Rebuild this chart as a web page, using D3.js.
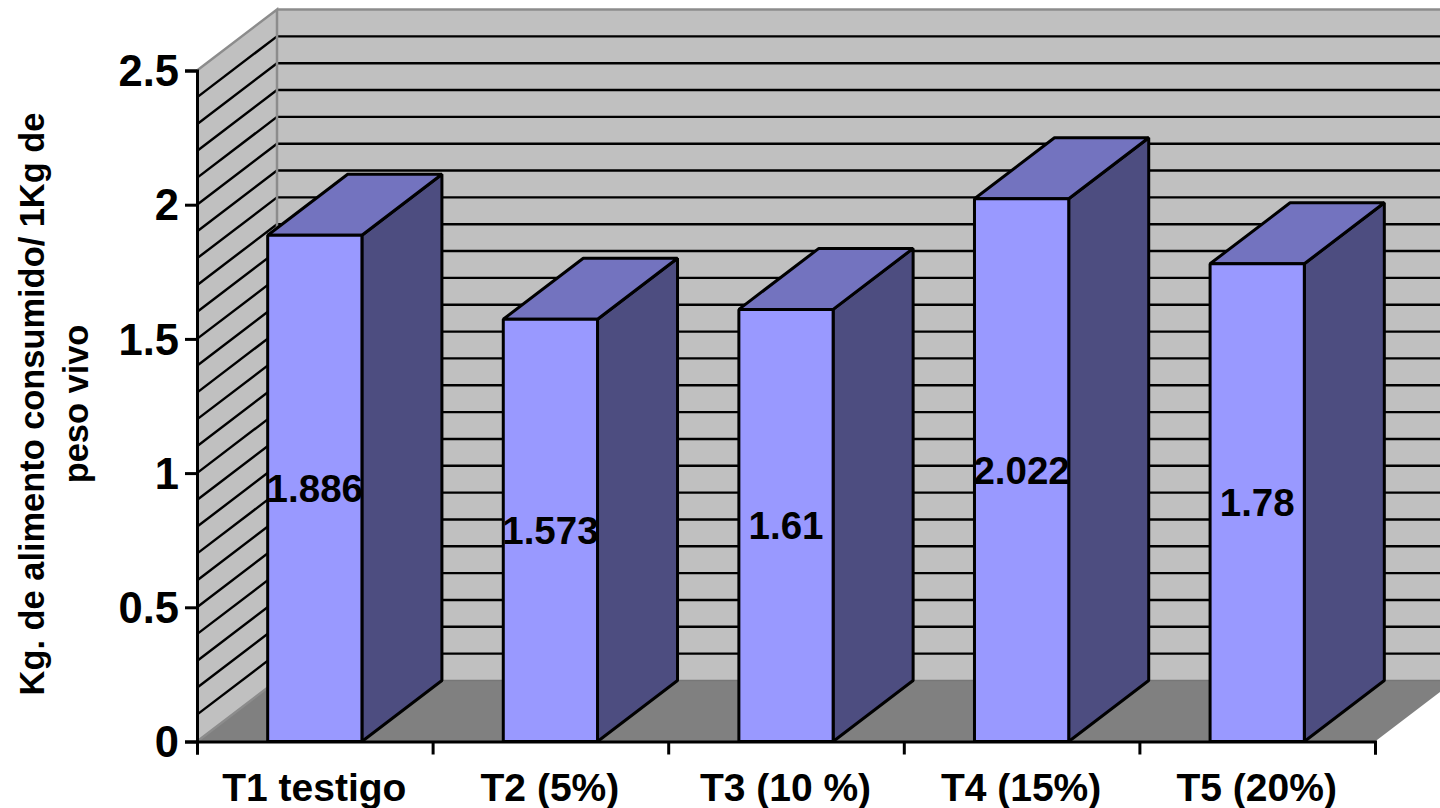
<!DOCTYPE html>
<html>
<head>
<meta charset="utf-8">
<script src="https://cdn.jsdelivr.net/npm/d3@7/dist/d3.min.js"></script>
<style>
html,body{margin:0;padding:0;background:#fff;overflow:hidden}
svg{display:block}
text{font-family:"Liberation Sans",Arial,sans-serif;font-weight:bold;fill:#000}
</style>
</head>
<body>
<svg id="chart" width="1440" height="808"></svg>
<script>
const categories = ["T1 testigo", "T2 (5%)", "T3 (10 %)", "T4 (15%)", "T5 (20%)"];
const values = [1.886, 1.573, 1.61, 2.022, 1.78];
const valueLabels = ["1.886", "1.573", "1.61", "2.022", "1.78"];
const yTicks = [0, 0.5, 1, 1.5, 2, 2.5];
const yTickLabels = ["0", "0.5", "1", "1.5", "2", "2.5"];
const gridValues = d3.range(1, 25).map(i => i / 10);
const titleLines = ["Kg. de alimento consumido/ 1Kg de", "peso vivo"];

const svg = d3.select("#chart");

// Plot frame and the oblique offset of the 3D projection
const plotLeft = 197, plotRight = 1375, plotBottom = 741.5, plotTop = 70.5;
const depthX = 80, depthY = -61;

const x = d3.scaleBand().domain(categories).range([plotLeft, plotRight]).paddingInner(0.6).paddingOuter(0.3);
const y = d3.scaleLinear().domain([0, 2.5]).range([plotBottom, plotTop]);
const poly = pts => pts.map(p => p.join(",")).join(" ");

const WALL = "#c0c0c0", FLOOR = "#808080", EDGE = "#8c8c8c";
const FRONT = "#9999ff", TOP_FACE = "#7373bf", SIDE = "#4d4d80";

// Side wall, back wall (runs past the page edge) and floor
svg.append("polygon")
  .attr("points", poly([[plotLeft, y(0)], [plotLeft + depthX, y(0) + depthY], [plotLeft + depthX, y(2.5) + depthY], [plotLeft, y(2.5)]]))
  .attr("fill", WALL);
svg.append("polygon")
  .attr("points", poly([[plotLeft + depthX, y(0) + depthY], [plotRight + depthX, y(0) + depthY], [plotRight + depthX, y(2.5) + depthY], [plotLeft + depthX, y(2.5) + depthY]]))
  .attr("fill", WALL);

const walls = svg.append("g").attr("fill", "none");
walls.selectAll(".side-grid").data(gridValues).join("line")
  .attr("class", "side-grid")
  .attr("x1", plotLeft).attr("x2", plotLeft + depthX)
  .attr("y1", d => y(d)).attr("y2", d => y(d) + depthY)
  .attr("stroke", "#000").attr("stroke-width", 2.4);
walls.selectAll(".back-grid").data(gridValues).join("line")
  .attr("class", "back-grid")
  .attr("x1", plotLeft + depthX).attr("x2", plotRight + depthX)
  .attr("y1", d => y(d) + depthY).attr("y2", d => y(d) + depthY)
  .attr("stroke", "#000").attr("stroke-width", 2.4);

svg.append("polygon")
  .attr("points", poly([[plotLeft, y(0)], [plotLeft + depthX, y(0) + depthY], [plotRight + depthX, y(0) + depthY], [plotRight, y(0)]]))
  .attr("fill", FLOOR);

// Grey outline of the walls
svg.append("polyline")
  .attr("points", poly([[plotLeft, y(0)], [plotLeft + depthX, y(0) + depthY], [plotLeft + depthX, y(2.5) + depthY], [plotLeft, y(2.5)]]))
  .attr("fill", "none").attr("stroke", EDGE).attr("stroke-width", 2.5);
svg.append("line")
  .attr("x1", plotLeft + depthX).attr("x2", plotRight + depthX)
  .attr("y1", y(2.5) + depthY).attr("y2", y(2.5) + depthY)
  .attr("stroke", EDGE).attr("stroke-width", 2.5);
svg.append("line")
  .attr("x1", plotLeft + depthX).attr("x2", plotRight + depthX)
  .attr("y1", y(0) + depthY).attr("y2", y(0) + depthY)
  .attr("stroke", "#777").attr("stroke-width", 1.5);

// Extruded bars: right side, top, then front face
const bars = svg.append("g").selectAll("g").data(values).join("g")
  .attr("stroke", "#000").attr("stroke-width", 3).attr("stroke-linejoin", "bevel");
const x0 = (d, i) => x(categories[i]);
const x1 = (d, i) => x(categories[i]) + x.bandwidth();
bars.append("polygon").attr("fill", SIDE)
  .attr("points", (d, i) => poly([[x1(d, i), y(d)], [x1(d, i) + depthX, y(d) + depthY], [x1(d, i) + depthX, y(0) + depthY], [x1(d, i), y(0)]]));
bars.append("polygon").attr("fill", TOP_FACE)
  .attr("points", (d, i) => poly([[x0(d, i), y(d)], [x0(d, i) + depthX, y(d) + depthY], [x1(d, i) + depthX, y(d) + depthY], [x1(d, i), y(d)]]));
bars.append("rect").attr("fill", FRONT)
  .attr("x", (d, i) => x0(d, i)).attr("width", x.bandwidth())
  .attr("y", d => y(d)).attr("height", d => y(0) - y(d));

// Axes
const yAxis = d3.axisLeft(y).tickValues(yTicks).tickSize(12).tickPadding(6)
  .tickFormat((d, i) => yTickLabels[i]);
const gy = svg.append("g").attr("transform", `translate(${plotLeft},0)`).call(yAxis);
gy.attr("font-family", null).attr("font-size", null);
gy.selectAll("text").attr("font-size", 43.5).attr("dy", "0.35em");

const edges = d3.scaleLinear().domain([0, categories.length]).range([plotLeft, plotRight]);
const xAxis = d3.axisBottom(edges).tickValues(d3.range(0, categories.length + 1)).tickSize(13).tickFormat("");
svg.append("g").attr("transform", `translate(0,${plotBottom})`).call(xAxis);
svg.selectAll(".domain").attr("stroke", "#000").attr("stroke-width", 3);
svg.selectAll(".tick line").attr("stroke", "#000").attr("stroke-width", 3);

svg.append("g").selectAll("text").data(categories).join("text")
  .attr("x", d => x(d) + x.bandwidth() / 2 - 0.5)
  .attr("y", 801)
  .attr("text-anchor", "middle").attr("font-size", 39)
  .text(d => d);

// Value labels at the middle of each front face
svg.append("g").selectAll("text").data(values).join("text")
  .attr("x", (d, i) => x(categories[i]) + x.bandwidth() / 2)
  .attr("y", d => (y(d) + y(0)) / 2 + 13.5)
  .attr("text-anchor", "middle").attr("font-size", 38.5)
  .text((d, i) => valueLabels[i]);

// Two-line rotated axis title
svg.append("g").selectAll("text").data(titleLines).join("text")
  .attr("transform", (d, i) => `translate(${43.5 + i * 44},404) rotate(-90)`)
  .attr("text-anchor", "middle").attr("font-size", 34.4)
  .text(d => d);
</script>
</body>
</html>
